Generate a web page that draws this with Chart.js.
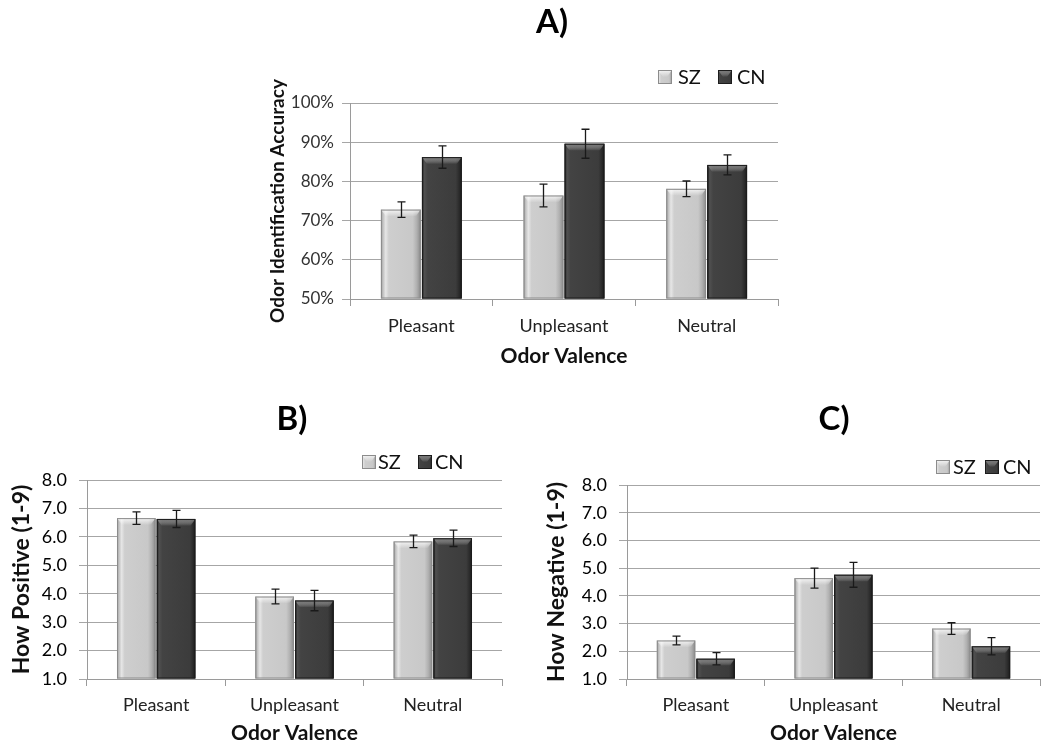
<!DOCTYPE html>
<html>
<head>
<meta charset="utf-8">
<script src="https://cdn.jsdelivr.net/npm/chart.js@4"></script>
<style>
  body { margin: 0; background: #fff; }
  #wrap { position: relative; width: 1050px; height: 752px; }
  canvas { position: absolute; }
</style>
</head>
<body>
<div id="wrap">
  <canvas id="chartA" width="1050" height="390" style="left:0;top:0;width:1050px;height:390px"></canvas>
  <canvas id="chartB" width="525" height="362" style="left:0;top:390px;width:525px;height:362px"></canvas>
  <canvas id="chartC" width="525" height="362" style="left:525px;top:390px;width:525px;height:362px"></canvas>
</div>
<script>
// data
const valences = ['Pleasant', 'Unpleasant', 'Neutral'];
const groups = ['SZ', 'CN'];

// A) odor identification accuracy (%)
const accSZ = [72.8, 76.4, 78.1];
const accSZErr = [2.0, 2.9, 2.0];
const accCN = [86.2, 89.6, 84.2];
const accCNErr = [2.85, 3.7, 2.55];

// B) how positive (1-9)
const posSZ = [6.66, 3.90, 5.84];
const posSZErr = [0.22, 0.26, 0.22];
const posCN = [6.63, 3.76, 5.95];
const posCNErr = [0.30, 0.36, 0.29];

// C) how negative (1-9)
const negSZ = [2.39, 4.64, 2.82];
const negSZErr = [0.16, 0.36, 0.21];
const negCN = [1.73, 4.76, 2.18];
const negCNErr = [0.22, 0.45, 0.31];

const FONT = 'Lato, "Open Sans", sans-serif';

// bevel look of the bars
const palettes = {
    SZ: {
        base: '#c8c8c8',
        stops: [[0, '#9a9a9a'], [0.05, '#c0c0c0'], [0.12, '#e6e6e6'], [0.2, '#cecece'], [0.8, '#c8c8c8'], [0.9, '#b0b0b0'], [1, '#8a8a8a']],
        cap: 'rgba(255,255,255,0.8)',
        edge: '#8c8c8c'
    },
    CN: {
        base: '#3c3c3c',
        stops: [[0, '#1a1a1a'], [0.06, '#505050'], [0.15, '#434343'], [0.85, '#3c3c3c'], [0.94, '#2a2a2a'], [1, '#181818']],
        cap: 'rgba(140,140,140,0.7)',
        edge: '#1c1c1c'
    }
};

function bevel(ctx, x0, x1, top, bot, pal) {
    const w = x1 - x0;
    const g = ctx.createLinearGradient(x0, 0, x1, 0);
    pal.stops.forEach(s => g.addColorStop(s[0], s[1]));
    ctx.fillStyle = g;
    ctx.fillRect(x0, top, w, bot - top);
    const h = Math.min(7, bot - top);
    const g2 = ctx.createLinearGradient(0, top, 0, top + h);
    g2.addColorStop(0, pal.cap);
    g2.addColorStop(1, 'rgba(255,255,255,0)');
    ctx.fillStyle = g2;
    ctx.beginPath();
    ctx.moveTo(x0, top);
    ctx.lineTo(x1, top);
    ctx.lineTo(x1 - 5, top + h);
    ctx.lineTo(x0 + 5, top + h);
    ctx.closePath();
    ctx.fill();
    ctx.strokeStyle = pal.edge;
    ctx.lineWidth = 1;
    ctx.strokeRect(x0 + 0.5, top + 0.5, w - 1, bot - top - 1);
}

// panel letter, legend, bevels and error bars
const panelPlugin = {
    id: 'panel',
    afterDatasetsDraw(chart, args, opts) {
        const ctx = chart.ctx;
        const y = chart.scales.y;
        const area = chart.chartArea;
        ctx.save();
        ctx.beginPath();
        ctx.rect(area.left, area.top - 20, area.right - area.left, area.bottom - area.top + 20);
        ctx.clip();
        chart.data.datasets.forEach((ds, i) => {
            const meta = chart.getDatasetMeta(i);
            meta.data.forEach((el, j) => {
                const p = el.getProps(['x', 'y', 'base', 'width'], true);
                bevel(ctx, p.x - p.width / 2, p.x + p.width / 2, p.y, p.base, palettes[ds.label]);
            });
        });
        chart.data.datasets.forEach((ds, i) => {
            const meta = chart.getDatasetMeta(i);
            meta.data.forEach((el, j) => {
                const x = Math.round(el.x) + 0.5;
                const hi = y.getPixelForValue(ds.data[j] + ds.errors[j]);
                const lo = y.getPixelForValue(ds.data[j] - ds.errors[j]);
                ctx.strokeStyle = '#1a1a1a';
                ctx.lineWidth = 1.3;
                ctx.beginPath();
                ctx.moveTo(x, hi); ctx.lineTo(x, lo);
                ctx.moveTo(x - 4, hi); ctx.lineTo(x + 4, hi);
                ctx.moveTo(x - 4, lo); ctx.lineTo(x + 4, lo);
                ctx.stroke();
            });
        });
        ctx.restore();
    },
    afterDraw(chart, args, opts) {
        const ctx = chart.ctx;
        ctx.save();
        ctx.fillStyle = '#000';
        ctx.font = 'bold 33px ' + FONT;
        ctx.textAlign = 'center';
        ctx.textBaseline = 'middle';
        ctx.fillText(opts.letter, opts.letterX, opts.letterY);
        // legend
        ctx.font = opts.legendFont + 'px ' + FONT;
        ctx.textAlign = 'left';
        chart.data.datasets.forEach((ds, i) => {
            const bx = opts.legendBoxes[i];
            bevel(ctx, bx, bx + 14, opts.legendY - 7, opts.legendY + 7, palettes[ds.label]);
            ctx.fillStyle = '#111';
            ctx.fillText(ds.label, opts.legendText[i], opts.legendY + 1);
        });
        ctx.restore();
    }
};

function makeChart(id, cfg) {
    const canvas = document.getElementById(id);
    const W = canvas.width, H = canvas.height;
    return new Chart(canvas, {
        type: 'bar',
        data: {
            labels: valences,
            datasets: [
                { label: groups[0], data: cfg.sz, errors: cfg.szErr, base: cfg.min, backgroundColor: palettes.SZ.base },
                { label: groups[1], data: cfg.cn, errors: cfg.cnErr, base: cfg.min, backgroundColor: palettes.CN.base }
            ]
        },
        plugins: [panelPlugin],
        options: {
            responsive: false,
            animation: false,
            barPercentage: 0.97,
            categoryPercentage: 0.575,
            layout: {
                padding: {
                    left: cfg.area.left - cfg.yW,
                    right: W - cfg.area.right,
                    top: cfg.area.top,
                    bottom: H - cfg.area.bottom - cfg.xH
                }
            },
            plugins: {
                legend: { display: false },
                tooltip: { enabled: false },
                panel: cfg.panel
            },
            scales: {
                x: {
                    afterFit: s => { s.height = cfg.xH; },
                    grid: { drawOnChartArea: false, tickLength: 7, color: '#9a9a9a' },
                    border: { color: '#9a9a9a' },
                    ticks: { color: '#222', padding: cfg.xPad, font: { family: FONT, size: 18 } },
                    title: { display: true, text: 'Odor Valence', color: '#111', font: { family: FONT, size: 21, weight: 'bold' } }
                },
                y: {
                    min: cfg.min,
                    max: cfg.max,
                    afterFit: s => { s.width = cfg.yW; },
                    grid: { tickLength: 8, color: '#a6a6a6' },
                    border: { color: '#9a9a9a' },
                    ticks: { stepSize: cfg.step, color: cfg.tickColor, padding: cfg.yPad, callback: cfg.fmt, font: { family: FONT, size: cfg.tickSize } },
                    title: { display: true, text: cfg.yTitle, color: '#111', font: { family: FONT, size: cfg.yTitleSize, weight: 'bold' } }
                }
            }
        }
    });
}

makeChart('chartA', {
    sz: accSZ, szErr: accSZErr, cn: accCN, cnErr: accCNErr,
    min: 50, max: 100, step: 10, fmt: v => v + '%',
    tickSize: 17, tickColor: '#333', yPad: 8,
    yTitle: 'Odor Identification Accuracy', yTitleSize: 19,
    area: { left: 350, right: 778, top: 103, bottom: 299 },
    yW: 88, xH: 74, xPad: 9,
    panel: { letter: 'A)', letterX: 552, letterY: 22, legendFont: 20, legendY: 77, legendBoxes: [658, 718], legendText: [678, 737] }
});

makeChart('chartB', {
    sz: posSZ, szErr: posSZErr, cn: posCN, cnErr: posCNErr,
    min: 1, max: 8, step: 1, fmt: v => v.toFixed(1),
    tickSize: 18, tickColor: '#000', yPad: 12,
    yTitle: 'How Positive (1-9)', yTitleSize: 23,
    area: { left: 87, right: 502, top: 90, bottom: 289 },
    yW: 83, xH: 71, xPad: 8,
    panel: { letter: 'B)', letterX: 292, letterY: 29, legendFont: 20, legendY: 72, legendBoxes: [362, 418], legendText: [378, 435] }
});

makeChart('chartC', {
    sz: negSZ, szErr: negSZErr, cn: negCN, cnErr: negCNErr,
    min: 1, max: 8, step: 1, fmt: v => v.toFixed(1),
    tickSize: 18, tickColor: '#000', yPad: 12,
    yTitle: 'How Negative (1-9)', yTitleSize: 23,
    area: { left: 102, right: 515, top: 95, bottom: 289 },
    yW: 88, xH: 71, xPad: 8,
    panel: { letter: 'C)', letterX: 309, letterY: 29, legendFont: 20, legendY: 77, legendBoxes: [411, 460], legendText: [428, 478] }
});
</script>
</body>
</html>
